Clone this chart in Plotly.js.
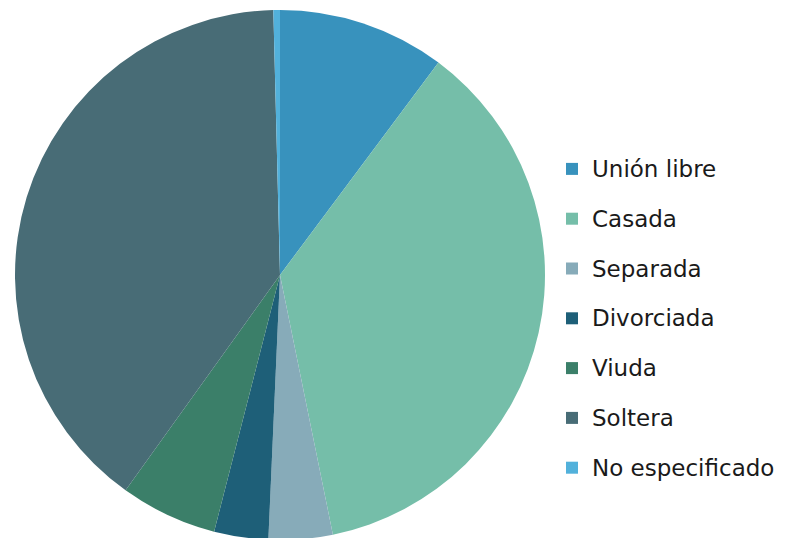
<!DOCTYPE html>
<html>
<head>
<meta charset="utf-8">
<script src="https://cdn.plot.ly/plotly-3.0.1.min.js"></script>
<style>
html, body { margin: 0; padding: 0; overflow: hidden; background: #ffffff; }
#chart { width: 788px; height: 552px; }
</style>
</head>
<body>
<div id="chart"></div>
<script>
// Data (percentages)
const categories = ["Unión libre", "Casada", "Separada", "Divorciada", "Viuda", "Soltera", "No especificado"];
const values = [10.2, 36.6, 3.9, 3.3, 5.9, 39.7, 0.4];
const colors = ["#3892bd", "#75bea9", "#87abb9", "#1e5f78", "#3b7f69", "#486c76", "#52b1db"];

const legendLabels = categories.map(c => '<span style="font-size:23px;baseline-shift:6px">' + c + '</span>');

const trace = {
  type: "pie",
  labels: legendLabels,
  values: values,
  sort: false,
  direction: "clockwise",
  rotation: 0,
  textinfo: "none",
  hoverinfo: "label+percent",
  marker: { colors: colors, line: { width: 0 } },
  domain: { x: [15 / 788, 545 / 788], y: [12 / 552, 542 / 552] }
};

const layout = {
  width: 788,
  height: 552,
  margin: { l: 0, r: 0, t: 0, b: 0 },
  paper_bgcolor: "#ffffff",
  showlegend: true,
  legend: {
    x: 552 / 788,
    xanchor: "left",
    y: 1 - 139 / 552,
    yanchor: "top",
    font: { family: "DejaVu Sans, sans-serif", size: 36, color: "#1a1a1a" },
    bgcolor: "rgba(0,0,0,0)",
    traceorder: "normal"
  }
};

Plotly.newPlot("chart", [trace], layout, { displayModeBar: false, staticPlot: true });
</script>
</body>
</html>
